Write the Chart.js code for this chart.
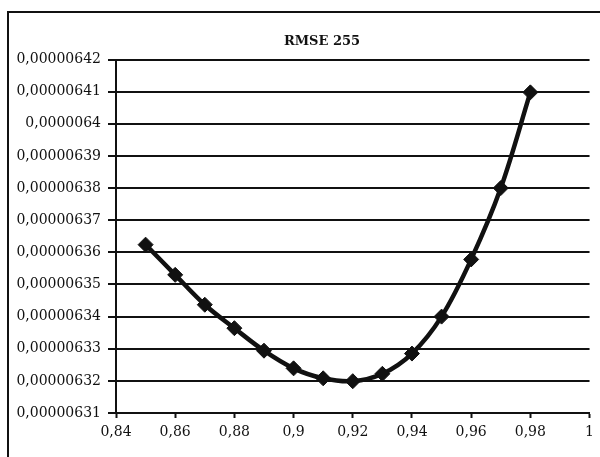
<!DOCTYPE html>
<html>
<head>
<meta charset="utf-8">
<script src="https://cdn.jsdelivr.net/npm/chart.js@4/dist/chart.umd.min.js"></script>
<style>
  html, body { margin: 0; padding: 0; background: #fff; overflow: hidden; }
  #wrap { position: relative; width: 600px; height: 457px; }
  #frame { position: absolute; left: 7px; top: 11px; width: 700px; height: 600px; border: 2px solid #111; pointer-events: none; }
  canvas { position: absolute; left: 0; top: 0; }
</style>
</head>
<body>
<div id="wrap">
  <canvas id="chartRmse" width="600" height="457"></canvas>
  <div id="frame"></div>
</div>
<script>
// Données
const xValues = [0.85, 0.86, 0.87, 0.88, 0.89, 0.90, 0.91, 0.92, 0.93, 0.94, 0.95, 0.96, 0.97, 0.98];
const rmseValues = [
    0.0000063624, 0.0000063530, 0.0000063437, 0.0000063364, 0.0000063294,
    0.0000063239, 0.0000063208, 0.0000063199, 0.0000063222, 0.0000063285,
    0.0000063400, 0.0000063578, 0.0000063800, 0.0000064098
];

// Libellés des axes
const yTickLabels = ['0,00000631', '0,00000632', '0,00000633', '0,00000634', '0,00000635', '0,00000636',
                     '0,00000637', '0,00000638', '0,00000639', '0,0000064', '0,00000641', '0,00000642'];
const xTickLabels = ['0,84', '0,86', '0,88', '0,9', '0,92', '0,94', '0,96', '0,98', '1'];

const toNumber = s => parseFloat(s.replace(',', '.'));
const yTickValues = yTickLabels.map(toNumber);
const xTickValues = xTickLabels.map(toNumber);

const serif = '"DejaVu Serif", "Liberation Serif", serif';
const ink = '#111';

// Décale le titre vers la droite (centré sur le cadre du graphique, comme dans Excel)
const titleShift = {
    id: 'titleShift',
    afterLayout(chart) {
        const t = chart.titleBlock;
        if (t) {
            t.left += 23;
            t.right += 23;
        }
    }
};

const canvas = document.getElementById('chartRmse');

new Chart(canvas, {
    type: 'line',
    data: {
        datasets: [{
            label: 'RMSE 255',
            data: xValues.map((x, i) => ({ x: x, y: rmseValues[i] })),
            borderColor: ink,
            backgroundColor: ink,
            borderWidth: 4.5,
            tension: 0.35,
            pointStyle: 'rectRot',
            pointRadius: 7.5,
            pointBackgroundColor: ink,
            pointBorderColor: ink,
            pointBorderWidth: 1
        }]
    },
    plugins: [titleShift],
    options: {
        responsive: false,
        animation: false,
        layout: {
            padding: { top: 14, left: 8, right: 10, bottom: 0 }
        },
        plugins: {
            legend: { display: false },
            tooltip: { enabled: false },
            title: {
                display: true,
                text: 'RMSE 255',
                color: ink,
                font: { family: serif, size: 13, weight: 'bold' },
                padding: { top: 20, bottom: 10 }
            }
        },
        scales: {
            x: {
                type: 'linear',
                min: xTickValues[0],
                max: xTickValues[xTickValues.length - 1],
                afterBuildTicks: scale => {
                    scale.ticks = xTickValues.map(v => ({ value: v }));
                },
                afterFit: scale => { scale.height = 44; },
                grid: {
                    drawOnChartArea: false,
                    drawTicks: true,
                    tickLength: 5,
                    tickColor: ink,
                    tickWidth: 2
                },
                border: { display: true, color: ink, width: 2 },
                ticks: {
                    color: ink,
                    padding: 6,
                    maxRotation: 0,
                    font: { family: serif, size: 14 },
                    callback: (value, index) => xTickLabels[index]
                }
            },
            y: {
                min: yTickValues[0],
                max: yTickValues[yTickValues.length - 1],
                afterBuildTicks: scale => {
                    scale.ticks = yTickValues.map(v => ({ value: v }));
                },
                afterFit: scale => { scale.width = 108; },
                grid: {
                    color: ink,
                    lineWidth: 2,
                    drawTicks: true,
                    tickLength: 8,
                    tickColor: ink,
                    tickWidth: 2
                },
                border: { display: true, color: ink, width: 2 },
                ticks: {
                    color: ink,
                    padding: 7,
                    font: { family: serif, size: 14 },
                    callback: (value, index) => yTickLabels[index]
                }
            }
        }
    }
});
</script>
</body>
</html>
